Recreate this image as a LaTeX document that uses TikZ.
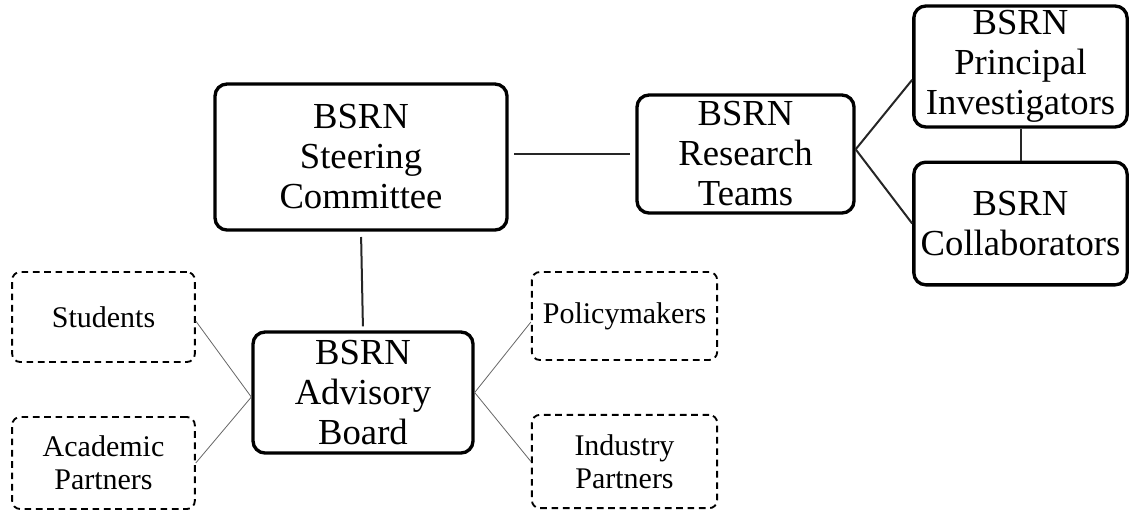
\documentclass[tikz,border=0pt]{standalone}
\usepackage{fontspec}
\setmainfont{Liberation Serif}
\usetikzlibrary{positioning}

\tikzset{
  unitbox/.style={
    draw=black,            % black border
    line width=2.5pt,      % heavy outline
    rounded corners=9pt,   % rounded boxes
    align=center,
    inner sep=2pt,
    font=\fontsize{27.5}{30}\selectfont
  },
  guestbox/.style={
    draw=black,
    dash pattern=on 5pt off 3.5pt, % dashed border
    line width=1.4pt,
    rounded corners=6pt,
    align=center,
    inner sep=2pt,
    font=\fontsize{22.5}{25}\selectfont
  },
  tie/.style={line width=1.5pt, black!85},
  faint/.style={line width=0.6pt, black!60}
}

\begin{document}
\begin{tikzpicture}[x=0.75pt, y=-0.75pt]
	\useasboundingbox (0,0) rectangle (1129,512);

	% solid boxes
	\node[unitbox, minimum width=219pt, minimum height=109.5pt] (steer) at (361,157) {BSRN\\Steering\\Committee};
	\node[unitbox, minimum width=162.75pt, minimum height=88.5pt] (teams) at (745.5,154) {BSRN\\Research\\Teams};
	\node[unitbox, minimum width=160pt, minimum height=90.75pt] (pi) at (1020.5,66.5) {BSRN\\Principal\\Investigators};
	\node[unitbox, minimum width=160pt, minimum height=92pt] (collab) at (1020.5,223.5) {BSRN\\Collaborators};
	\node[unitbox, minimum width=165pt, minimum height=90.75pt] (board) at (363,392.5) {BSRN\\Advisory\\Board};

	% dashed boxes
	\node[guestbox, minimum width=137pt, minimum height=67.5pt] (students) at (103.5,317) {Students};
	\node[guestbox, minimum width=137pt, minimum height=69pt] (academic) at (103.5,463) {Academic\\Partners};
	\node[guestbox, minimum width=139pt, minimum height=66pt] (policy) at (624.5,316) {Policymakers};
	\node[guestbox, minimum width=139pt, minimum height=70pt] (industry) at (624.5,461.5) {Industry\\Partners};

	% connectors
	\draw[tie, shorten <=4pt, shorten >=4pt] (teams.west -| steer.east) -- (teams.west);
	\draw[tie] ([yshift=3.5pt]teams.east) -- ([yshift=-10pt]pi.west);
	\draw[tie] ([yshift=3.5pt]teams.east) -- (collab.west);
	\draw[tie] (pi.south) -- (collab.north);
	\draw[tie, shorten <=4pt, shorten >=3pt] (steer.south) -- (board.north);

	\draw[faint] ([yshift=-3.4pt]board.west) -- ([yshift=-3pt]students.east);
	\draw[faint] ([yshift=-3.4pt]board.west) -- (academic.east);
	\draw[faint] (board.east) -- ([yshift=-4.5pt]policy.west);
	\draw[faint] (board.east) -- (industry.west);
\end{tikzpicture}
\end{document}
